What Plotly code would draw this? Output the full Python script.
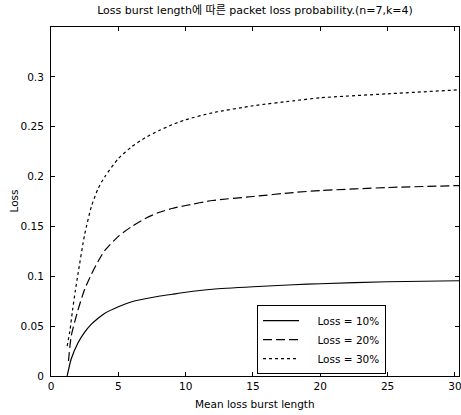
import plotly.graph_objects as go

# ---- data ----
x_10 = [1.2, 1.5, 2, 2.5, 3, 3.5, 4, 5, 6, 7, 8, 9, 10, 12, 15, 18, 20, 25, 30.3]
loss_10 = [0.0, 0.017, 0.033, 0.044, 0.052, 0.058, 0.063, 0.0695, 0.0745, 0.0775,
           0.080, 0.082, 0.084, 0.087, 0.0895, 0.0915, 0.0925, 0.0945, 0.0955]

x_20 = [1.3, 1.5, 2, 2.5, 3, 3.5, 4, 5, 6, 7, 8, 9, 10, 12, 15, 18, 20, 25, 30.3]
loss_20 = [0.015, 0.040, 0.066, 0.087, 0.102, 0.115, 0.126, 0.140, 0.150, 0.158,
           0.164, 0.168, 0.171, 0.176, 0.180, 0.184, 0.186, 0.189, 0.191]

x_30 = [1.2, 1.4, 1.6, 1.8, 2, 2.5, 3, 3.5, 4, 5, 6, 7, 8, 9, 10, 12, 15, 18, 20, 25, 30.3]
loss_30 = [0.030, 0.045, 0.066, 0.085, 0.102, 0.142, 0.170, 0.188, 0.200, 0.218,
           0.230, 0.239, 0.246, 0.252, 0.257, 0.264, 0.271, 0.276, 0.279, 0.283, 0.287]

series_names = ["Loss = 10%", "Loss = 20%", "Loss = 30%"]
x_ticks = [0, 5, 10, 15, 20, 25, 30]
y_ticks = [0, 0.05, 0.1, 0.15, 0.2, 0.25, 0.3]

title_text = "Loss burst length에 따른 packet loss probability.(n=7,k=4)"
x_title = "Mean loss burst length"
y_title = "Loss"

FONT = "DejaVu Sans, Noto Sans CJK KR, sans-serif"
FS = 10.5
pad = "\u00a0\u00a0\u00a0\u00a0"

fig = go.Figure()
styles = ["solid", "9px,4px", "3px,3px"]
for xs, ys, name, dash in zip([x_10, x_20, x_30], [loss_10, loss_20, loss_30],
                              series_names, styles):
    fig.add_trace(go.Scatter(
        x=xs, y=ys, mode="lines", name=pad + name,
        line=dict(color="black", width=1.2, dash=dash, shape="spline", smoothing=0.6),
    ))

axis_common = dict(
    showline=True, linecolor="black", linewidth=1, mirror="ticks",
    ticks="inside", ticklen=4, tickcolor="black", tickwidth=1,
    showgrid=False, zeroline=False, automargin=False, ticklabeloverflow="allow",
    tickfont=dict(family=FONT, size=FS, color="black"),
)

fig.update_layout(
    width=461, height=415,
    margin=dict(l=51, r=2, t=27, b=39, autoexpand=False),
    paper_bgcolor="white", plot_bgcolor="white",
    font=dict(family=FONT, size=FS, color="black"),
    title=dict(text=title_text, x=0.5, xref="paper", y=1 - 10 / 415, yref="container",
               xanchor="center", yanchor="middle",
               font=dict(family=FONT, size=11, color="black")),
    xaxis=dict(range=[0, 30.3], tickvals=x_ticks, **axis_common),
    yaxis=dict(range=[0, 0.35], tickvals=y_ticks, ticklabelstandoff=4, **axis_common),
    legend=dict(
        x=0.505, y=0.203, xanchor="left", yanchor="top",
        bgcolor="white", bordercolor="black", borderwidth=1,
        font=dict(family=FONT, size=FS, color="black"),
        itemwidth=36, tracegroupgap=0,
    ),
    showlegend=True,
)

fig.add_annotation(text=x_title, xref="paper", yref="paper", x=0.5, y=-(404 - 376) / 349,
                   xanchor="center", yanchor="middle", showarrow=False,
                   font=dict(family=FONT, size=FS, color="black"))
fig.add_annotation(text=y_title, xref="paper", yref="paper", x=-(51 - 13) / 408, y=0.5,
                   xanchor="center", yanchor="middle", showarrow=False, textangle=-90,
                   font=dict(family=FONT, size=FS, color="black"))

fig.write_html("out.html", config={"displayModeBar": False},
               post_script="document.body.style.margin='0';document.body.style.overflow='hidden';")
